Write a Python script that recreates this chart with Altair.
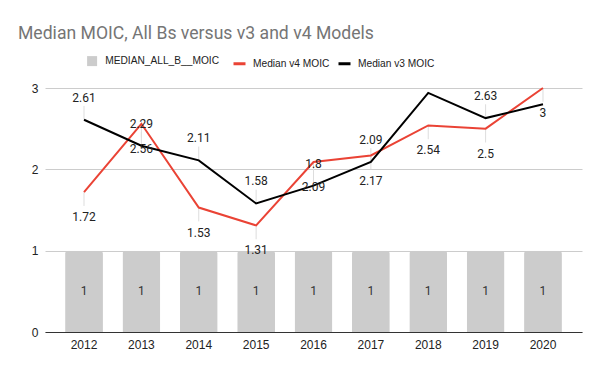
import altair as alt
import pandas as pd

years = ["2012", "2013", "2014", "2015", "2016", "2017", "2018", "2019", "2020"]
all_b = [1, 1, 1, 1, 1, 1, 1, 1, 1]
v4 = [1.72, 2.56, 1.53, 1.31, 2.09, 2.17, 2.54, 2.5, 3]
v3 = [2.61, 2.29, 2.11, 1.58, 1.8, 2.09, 2.94, 2.63, 2.8]

BAR_NAME = "MEDIAN_ALL_B__MOIC"
V4_NAME = "Median v4 MOIC"
V3_NAME = "Median v3 MOIC"

df = pd.DataFrame({"year": years, BAR_NAME: all_b, V4_NAME: v4, V3_NAME: v3})

AXIS_FONT = "Liberation Sans"
LABEL_FONT = "Roboto"

x_enc = alt.X(
    "year:N",
    title=None,
    scale=alt.Scale(paddingInner=0.34, paddingOuter=0.35),
    axis=alt.Axis(
        labelAngle=0, labelFont=AXIS_FONT, labelFontSize=12, labelColor="#222222",
        ticks=False, domain=True, domainColor="#333333", domainWidth=1,
        labelPadding=7, grid=False,
    ),
)
y_scale = alt.Scale(domain=[0, 3], nice=False)

base = alt.Chart(df)

bars = base.transform_calculate(series=f"'{BAR_NAME}'").mark_bar(
    cornerRadiusTopLeft=3, cornerRadiusTopRight=3
).encode(
    x=x_enc,
    y=alt.Y(
        f"{BAR_NAME}:Q", scale=y_scale, title=None,
        axis=alt.Axis(
            values=[0, 1, 2, 3], format="d", labelFont=AXIS_FONT, labelFontSize=12,
            labelColor="#222222", ticks=False, domain=False, gridColor="#cccccc",
            gridWidth=1, labelPadding=7,
        ),
    ),
    fill=alt.Fill(
        "series:N",
        scale=alt.Scale(domain=[BAR_NAME], range=["#cccccc"]),
        legend=alt.Legend(
            title=None, orient="none", legendX=42, legendY=-32, symbolType="square",
            symbolSize=100, labelFont=AXIS_FONT, labelFontSize=10.2, labelColor="#222222",
            labelOffset=8, symbolStrokeWidth=0,
        ),
    ),
)

bar_labels = base.transform_calculate(mid=f"datum['{BAR_NAME}'] / 2").mark_text(
    font=LABEL_FONT, fontSize=12, color="#333333"
).encode(
    x=alt.X("year:N"),
    y=alt.Y("mid:Q", scale=y_scale),
    text=alt.Text(f"{BAR_NAME}:N"),
)

lines_data = base.transform_fold([V4_NAME, V3_NAME], as_=["series", "value"])

leader_v3 = base.transform_filter(f"datum['{V3_NAME}'] < 2.75").transform_calculate(
    top=f"datum['{V3_NAME}'] + 0.17"
).mark_rule(color="#dddddd", strokeWidth=1).encode(
    x=alt.X("year:N"), y=alt.Y(f"{V3_NAME}:Q", scale=y_scale), y2="top:Q"
)
leader_v4 = base.transform_calculate(
    bot=f"datum['{V4_NAME}'] - 0.17"
).mark_rule(color="#dddddd", strokeWidth=1).encode(
    x=alt.X("year:N"), y=alt.Y(f"{V4_NAME}:Q", scale=y_scale), y2="bot:Q"
)

lines = lines_data.mark_line(strokeWidth=2).encode(
    x=alt.X("year:N"),
    y=alt.Y("value:Q", scale=y_scale),
    stroke=alt.Stroke(
        "series:N",
        scale=alt.Scale(domain=[V4_NAME, V3_NAME], range=["#ea4335", "#000000"]),
        legend=alt.Legend(
            title=None, orient="none", direction="horizontal", legendX=187, legendY=-32,
            symbolType="stroke", symbolSize=144, symbolStrokeWidth=3,
            labelFont=AXIS_FONT, labelFontSize=10.2, labelColor="#222222",
            labelOffset=6, columnPadding=2,
        ),
    ),
    order=alt.Order("series:N", sort="descending"),
)

v3_labels = base.transform_filter(f"datum['{V3_NAME}'] < 2.75").mark_text(
    font=LABEL_FONT, fontSize=12, color="#222222", dy=-22
).encode(
    x=alt.X("year:N"),
    y=alt.Y(f"{V3_NAME}:Q", scale=y_scale),
    text=alt.Text(f"{V3_NAME}:N"),
)
v4_labels = base.mark_text(
    font=LABEL_FONT, fontSize=12, color="#222222", dy=25
).encode(
    x=alt.X("year:N"),
    y=alt.Y(f"{V4_NAME}:Q", scale=y_scale),
    text=alt.Text(f"{V4_NAME}:N"),
)

chart = alt.layer(
    bars, bar_labels, leader_v3, leader_v4, lines, v3_labels, v4_labels
).resolve_scale(
    y="shared"
).properties(
    width=537,
    height=244,
    autosize=alt.AutoSizeParams(type="none"),
    padding={"left": 37, "top": 80, "right": 10, "bottom": 31},
    title=alt.TitleParams(
        "Median MOIC, All Bs versus v3 and v4 Models",
        anchor="start", frame="group", font=LABEL_FONT, fontSize=17.6,
        fontWeight="normal", color="#757575", dx=-27, offset=13,
    ),
).configure_view(stroke=None)

chart.save("out.html", embed_options={"renderer": "svg", "actions": False})
